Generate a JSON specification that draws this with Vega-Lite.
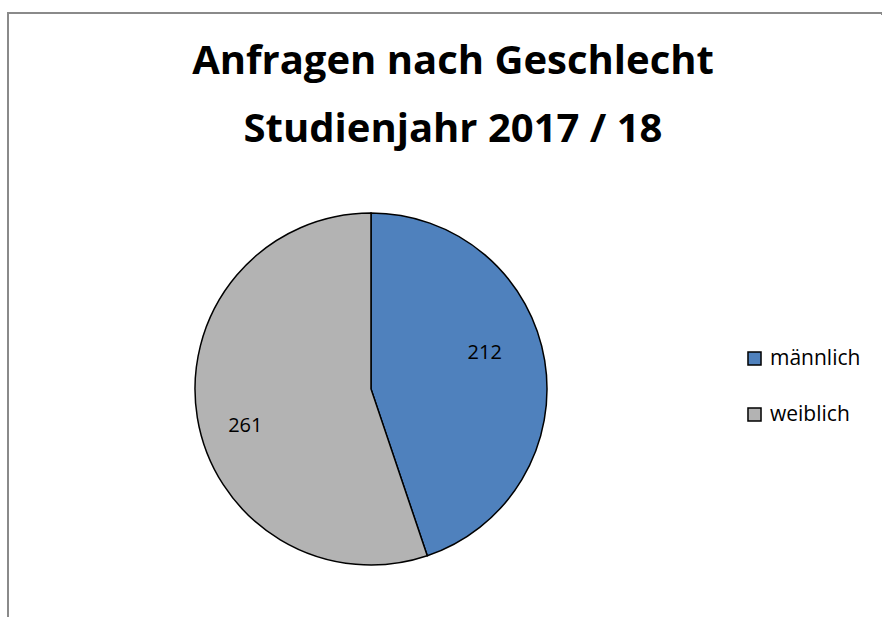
{
  "$schema": "https://vega.github.io/schema/vega-lite/v6.json",
  "autosize": {"type": "none"},
  "width": 874,
  "height": 604,
  "padding": {"left": 8, "top": 13, "right": 0, "bottom": 0},
  "background": "white",
  "view": {"stroke": "#8a8a8a", "strokeWidth": 2, "fill": "white", "strokeDash": [875, 1477, 605, 0], "strokeCap": "square"},
  "config": {
    "font": "Open Sans"
  },
  "title": {
    "text": ["Anfragen nach Geschlecht", "Studienjahr 2017 / 18"],
    "font": "Open Sans",
    "fontSize": 40,
    "fontWeight": "bold",
    "color": "black",
    "lineHeight": 68,
    "anchor": "middle",
    "baseline": "top",
    "offset": -137,
    "dx": 8
  },
  "data": {
    "values": [
      {"Geschlecht": "männlich", "Anzahl": 212, "Reihenfolge": 1},
      {"Geschlecht": "weiblich", "Anzahl": 261, "Reihenfolge": 2}
    ]
  },
  "encoding": {
    "theta": {"field": "Anzahl", "type": "quantitative", "stack": true},
    "order": {"field": "Reihenfolge", "type": "quantitative"},
    "color": {
      "field": "Geschlecht",
      "type": "nominal",
      "scale": {"domain": ["männlich", "weiblich"], "range": ["#4F81BD", "#B3B3B3"]},
      "legend": {
        "title": null,
        "orient": "none",
        "legendX": 736,
        "legendY": 335,
        "symbolType": "square",
        "symbolSize": 170,
        "symbolStrokeColor": "black",
        "symbolStrokeWidth": 1.5,
        "labelFontSize": 21,
        "labelFont": "Open Sans",
        "labelColor": "black",
        "rowPadding": 34,
        "labelOffset": 5
      }
    }
  },
  "layer": [
    {
      "mark": {"type": "arc", "outerRadius": 176, "stroke": "black", "strokeWidth": 1.5, "xOffset": -74, "yOffset": 74}
    },
    {
      "mark": {"type": "text", "radius": 125, "thetaOffset": -0.13, "fontSize": 20, "font": "Open Sans", "color": "black", "xOffset": -80, "yOffset": 74.5},
      "encoding": {
        "text": {"field": "Anzahl", "type": "quantitative"},
        "color": {"value": "black"}
      }
    }
  ]
}
